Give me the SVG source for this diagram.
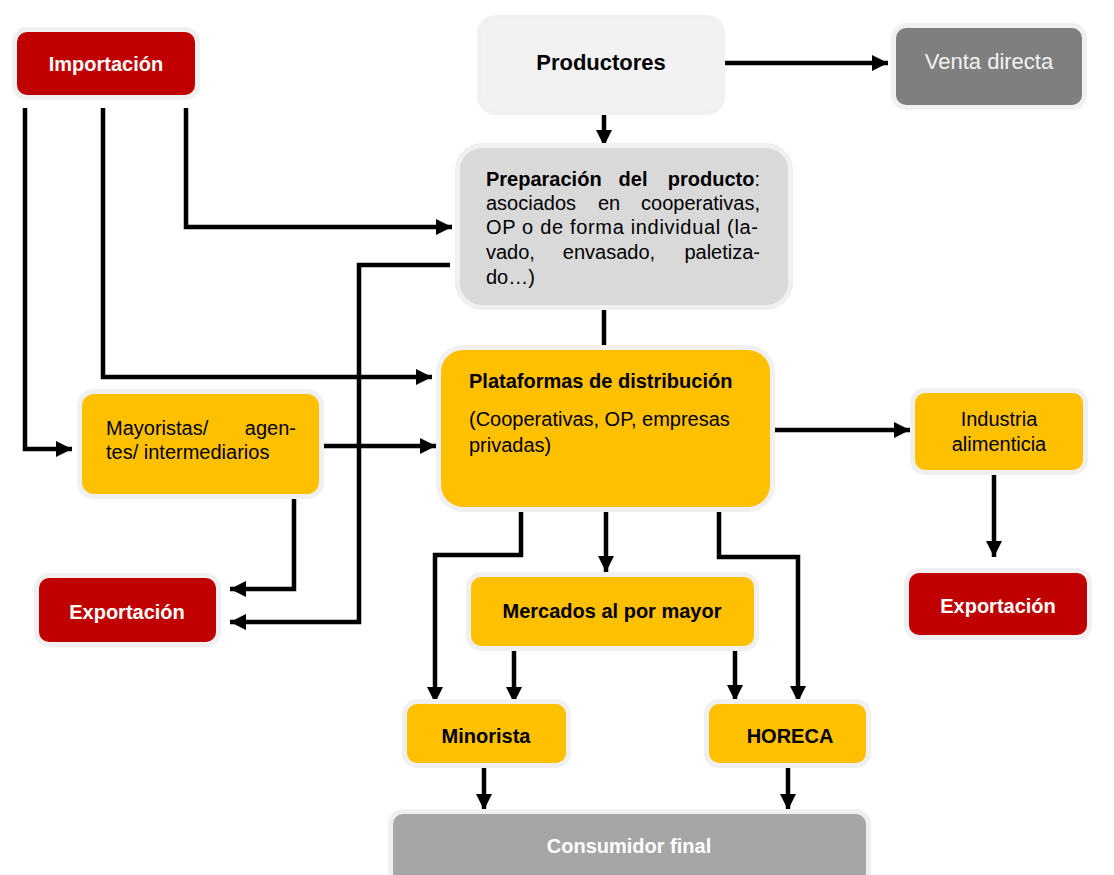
<svg xmlns="http://www.w3.org/2000/svg" width="1114" height="875" viewBox="0 0 1114 875">
<style>
.box{stroke:#f0f0f0;stroke-width:10;paint-order:stroke}
.red{fill:#c00000}
.yel{fill:#ffc000}
.t{font-family:"Liberation Sans",Arial,sans-serif;font-size:20px;fill:#000}
.b{font-weight:bold}
.w{fill:#fff}
.c{text-anchor:middle}
.e{text-anchor:end}
.ln{fill:none;stroke:#000;stroke-width:4.5;stroke-linejoin:miter}
.ar{marker-end:url(#ah)}
</style>
<defs>
<marker id="ah" markerUnits="userSpaceOnUse" markerWidth="18" markerHeight="18" refX="16" refY="8" orient="auto">
<path d="M0,0 L16,8 L0,16 z" fill="#000"/>
</marker>
</defs>
<rect width="1114" height="875" fill="#fff"/>

<g id="connectors">
<path class="ln ar" d="M714,63 H888"/>
<path class="ln ar" d="M604,110 V146"/>
<path class="ln ar" d="M186,108 V227 H452"/>
<path class="ln ar" d="M103,108 V377 H432"/>
<path class="ln ar" d="M25,108 V449 H72"/>
<path class="ln ar" d="M450,265 H359 V622 H230"/>
<path class="ln ar" d="M323,446 H436"/>
<path class="ln ar" d="M294,495 V589 H230"/>
<path class="ln" d="M604,308 V350"/>
<path class="ln ar" d="M775,430 H910"/>
<path class="ln ar" d="M521,508 V555 H435 V703"/>
<path class="ln ar" d="M606,508 V572"/>
<path class="ln ar" d="M719,508 V557 H798 V702"/>
<path class="ln ar" d="M514,651 V703"/>
<path class="ln ar" d="M735,648 V701"/>
<path class="ln ar" d="M994,475 V557"/>
<path class="ln ar" d="M484,768 V810"/>
<path class="ln ar" d="M788,768 V810"/>
</g>

<g id="importacion">
<rect class="box red" x="17" y="32" width="178" height="63" rx="10"/>
<text class="t b w c" x="106" y="71">Importación</text>
</g>

<g id="productores">
<rect class="box" fill="#f2f2f2" x="482" y="20" width="238" height="90" rx="14"/>
<text class="t b c" style="font-size:22px" x="601" y="70">Productores</text>
</g>

<g id="venta-directa">
<rect class="box" fill="#7f7f7f" x="896" y="28" width="186" height="77" rx="10"/>
<text class="t c" style="font-size:22px;fill:#f2f2f2" x="989" y="69">Venta directa</text>
</g>

<g id="preparacion">
<rect class="box" fill="#d9d9d9" x="460" y="148" width="328" height="157" rx="22"/>
<text class="t b" x="486" y="186">Preparación</text>
<text class="t b c" x="633" y="186">del</text>
<text class="t e" x="760" y="186"><tspan class="b">producto</tspan>:</text>
<text class="t" x="486" y="210">asociados</text>
<text class="t c" x="609" y="210">en</text>
<text class="t e" x="760" y="210">cooperativas,</text>
<text class="t" x="486" y="234" textLength="272" lengthAdjust="spacing">OP o de forma individual (la-</text>
<text class="t" x="486" y="259">vado,</text>
<text class="t c" x="609" y="259">envasado,</text>
<text class="t e" x="760" y="259">paletiza-</text>
<text class="t" x="486" y="284">do…)</text>
</g>

<g id="plataformas">
<rect class="box yel" x="441" y="350" width="329" height="157" rx="22"/>
<text class="t b" x="469" y="388">Plataformas de distribución</text>
<text class="t" x="469" y="426">(Cooperativas, OP, empresas</text>
<text class="t" x="469" y="452">privadas)</text>
</g>

<g id="mayoristas">
<rect class="box yel" x="82" y="394" width="237" height="100" rx="12"/>
<text class="t" x="106" y="435">Mayoristas/</text>
<text class="t e" x="296" y="435">agen-</text>
<text class="t" x="106" y="459">tes/ intermediarios</text>
</g>

<g id="industria">
<rect class="box yel" x="915" y="393" width="168" height="77" rx="10"/>
<text class="t c" x="999" y="426">Industria</text>
<text class="t c" x="999" y="451">alimenticia</text>
</g>

<g id="exportacion-izq">
<rect class="box red" x="39" y="578" width="177" height="64" rx="10"/>
<text class="t b w c" x="127" y="619">Exportación</text>
</g>

<g id="exportacion-der">
<rect class="box red" x="909" y="573" width="178" height="62" rx="10"/>
<text class="t b w c" x="998" y="613">Exportación</text>
</g>

<g id="mercados">
<rect class="box yel" x="471" y="577" width="283" height="69" rx="10"/>
<text class="t b c" x="612" y="618">Mercados al por mayor</text>
</g>

<g id="minorista">
<rect class="box yel" x="407" y="704" width="159" height="59" rx="10"/>
<text class="t b c" x="486" y="743">Minorista</text>
</g>

<g id="horeca">
<rect class="box yel" x="709" y="704" width="157" height="59" rx="10"/>
<text class="t b c" x="790" y="743">HORECA</text>
</g>

<g id="consumidor">
<rect class="box" fill="#a6a6a6" x="393" y="814" width="473" height="75" rx="10"/>
<text class="t b w c" x="629" y="853">Consumidor final</text>
</g>
</svg>
